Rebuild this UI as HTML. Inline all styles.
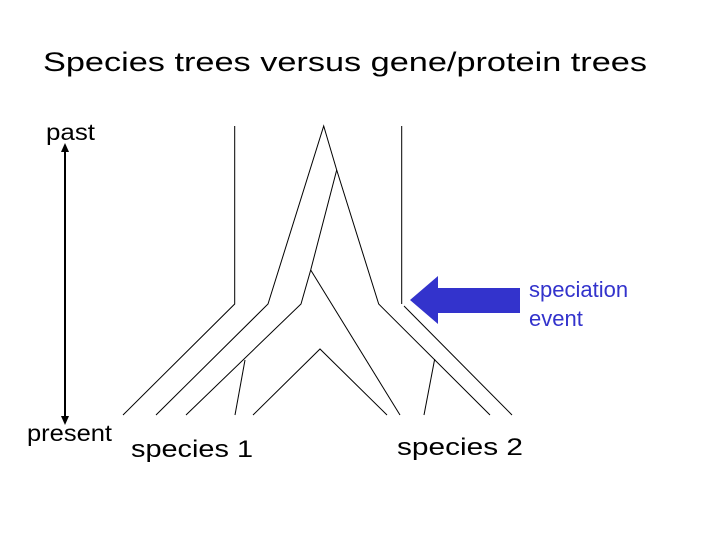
<!DOCTYPE html>
<html><head><meta charset="utf-8"><style>
html,body{margin:0;padding:0;background:#fff;}
svg{display:block;font-family:"Liberation Sans",Arial,sans-serif;}
</style></head><body>
<svg width="720" height="540" viewBox="0 0 720 540" xmlns="http://www.w3.org/2000/svg">
<text x="43" y="71" font-size="27" textLength="604" lengthAdjust="spacingAndGlyphs">Species trees versus gene/protein trees</text>
<text x="46" y="140" font-size="23" textLength="49" lengthAdjust="spacingAndGlyphs">past</text>
<text x="27" y="441" font-size="23" textLength="85" lengthAdjust="spacingAndGlyphs">present</text>
<text x="131" y="457" font-size="24" textLength="122" lengthAdjust="spacingAndGlyphs">species 1</text>
<text x="397" y="455" font-size="24" textLength="126" lengthAdjust="spacingAndGlyphs">species 2</text>
<text x="529" y="297" font-size="22" fill="#3333cc">speciation</text>
<text x="529" y="326" font-size="22" fill="#3333cc">event</text>
<g stroke="#000" stroke-width="2">
<line x1="65" y1="150" x2="65" y2="418"/>
</g>
<polygon points="65,143 61,152 69,152" fill="#000"/>
<polygon points="65,425 61,416 69,416" fill="#000"/>
<g stroke="#000" stroke-width="1" fill="none">
<polyline points="234.7,126 234.7,304 123,415"/>
<polyline points="401.7,126 401.7,304"/>
<polyline points="404,306 512,415"/>
<polyline points="156,415 268,304 323.7,126 336.7,170 378.7,304 490,415"/>
<polyline points="336.7,170 310.7,270 301,304 186,415"/>
<polyline points="310.7,270 400,415"/>
<polyline points="253,415 320,349 387,415"/>
<polyline points="245,360 235,415"/>
<polyline points="434.7,359 424,415"/>
</g>
<polygon points="410,300 438,276 438,288 520,288 520,313 438,313 438,324" fill="#3333cc"/>
</svg>
</body></html>
